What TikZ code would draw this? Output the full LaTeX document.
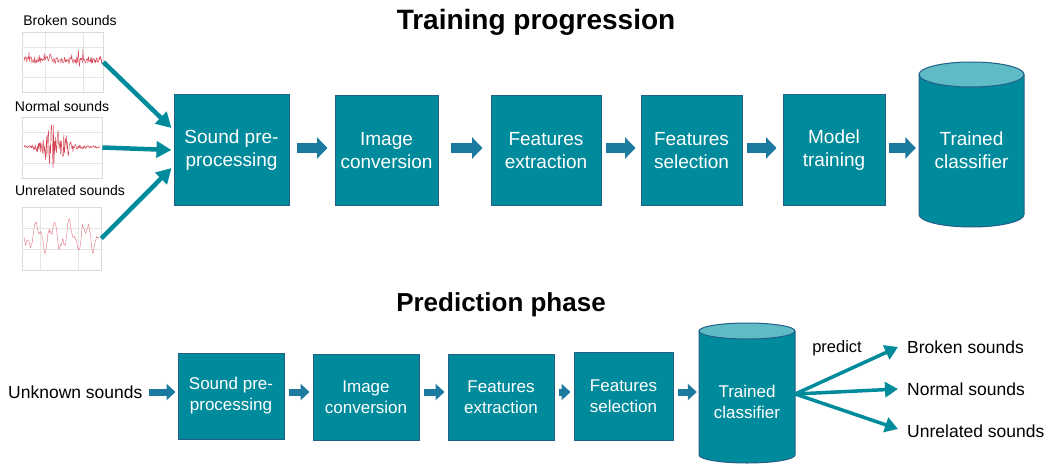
\documentclass[tikz,border=0pt]{standalone}
\usepackage{fontspec}
\setmainfont{Liberation Sans}
\usetikzlibrary{arrows.meta,calc}

\definecolor{boxteal}{RGB}{0,139,156}
\definecolor{boxedge}{RGB}{35,95,135}
\definecolor{topteal}{RGB}{95,188,198}
\definecolor{flowblue}{RGB}{28,122,160}
\definecolor{wave}{RGB}{215,70,85}
\definecolor{gridgray}{RGB}{218,218,218}

\tikzset{
  stage/.style={rectangle, fill=boxteal, draw=boxedge, line width=1pt,
    text=white, align=center, inner sep=0pt},
  stageT/.style={stage, font=\fontsize{19}{23}\selectfont},
  stageB/.style={stage, font=\fontsize{17}{21}\selectfont},
  drumlabel/.style={rectangle, inner sep=0pt, text=white, align=center},
  flowT/.style={line width=9.5pt, draw=flowblue, -{Triangle[length=10.5pt,width=21pt]}},
  flowB/.style={line width=7pt, draw=flowblue, -{Triangle[length=9pt,width=16pt]}},
  feed/.style={line width=4.5pt, draw=boxteal, -{Triangle[length=15pt,width=16pt]}},
  outcome/.style={line width=3.5pt, draw=boxteal, -{Triangle[length=13pt,width=15pt]}},
  graphframe/.style={rectangle, draw=gridgray, fill=white, line width=0.6pt, inner sep=0pt},
  gridline/.style={draw=gridgray!70, line width=0.4pt},
  sig/.style={draw=wave, line width=0.45pt, line join=round},
  title/.style={font=\fontsize{28}{32}\selectfont\bfseries},
  caption/.style={font=\fontsize{14}{16}\selectfont},
  plain/.style={font=\fontsize{17.5}{20}\selectfont, inner sep=0pt},
}

\begin{document}
\begin{tikzpicture}[x=1pt,y=1pt]
\useasboundingbox (0,0) rectangle (1051,-465);

% ---------------- Training progression ----------------
\node[title] (ttitle) at (536,-22) {Training progression};

% input recordings
\node[caption] (cap1) at (70,-20) {Broken sounds};
\node[caption] (cap2) at (62,-106) {Normal sounds};
\node[caption] (cap3) at (70,-190) {Unrelated sounds};

\node[graphframe, minimum width=81pt, minimum height=60pt] (g1) at (62.5,-62) {};
\node[graphframe, minimum width=80pt, minimum height=61pt] (g2) at (62,-147.5) {};
\node[graphframe, minimum width=79pt, minimum height=63pt] (g3) at (61.5,-238.5) {};

% light grid lines
\draw[gridline] (45,-32) -- (45,-92) (83,-32) -- (83,-92) (22,-47) -- (103,-47) (22,-77) -- (103,-77);
\draw[gridline] (22,-132) -- (102,-132) (22,-163) -- (102,-163);
\draw[gridline] (40,-207) -- (40,-270) (78,-207) -- (78,-270) (22,-228) -- (101,-228) (22,-249) -- (101,-249);

% waveforms
\pgfmathsetseed{7}
\draw[sig] plot[domain=24:102, samples=140] (\x, {-60 + 3.5*rand + (rnd>0.8)*9*rand});
\draw[sig] plot[domain=24:100, samples=150] (\x, {-147 + (1.5 + 22*exp(-((\x-55)/13)^2))*rand});
\draw[sig, draw=wave!70] plot[domain=24:99, samples=120]
  (\x, {-236 + 11*sin(22*\x) + 6*sin(53*\x+40) + 2.5*rand});

% pipeline stages
\node[stageT, minimum width=115pt, minimum height=111pt] (pre) at (231.5,-150) {Sound pre-\\processing};
\node[stageT, minimum width=103pt, minimum height=110pt] (img) at (386.5,-150.5) {Image\\conversion};
\node[stageT, minimum width=110pt, minimum height=110pt] (fex) at (546,-150.5) {Features\\extraction};
\node[stageT, minimum width=101pt, minimum height=110pt] (fsel) at (691.5,-150.5) {Features\\selection};
\node[stageT, minimum width=102pt, minimum height=111pt] (mtr) at (834,-150) {Model\\training};

% trained classifier drum
\fill[boxteal] (919,-74.5) -- (919,-214.5)
  arc[start angle=180, end angle=360, x radius=52.5pt, y radius=12.5pt]
  -- (1024,-74.5)
  arc[start angle=0, end angle=180, x radius=52.5pt, y radius=12.5pt] -- cycle;
\draw[boxedge, line width=1pt] (919,-74.5) -- (919,-214.5)
  arc[start angle=180, end angle=360, x radius=52.5pt, y radius=12.5pt]
  -- (1024,-74.5);
\filldraw[fill=topteal, draw=boxedge, line width=1pt] (971.5,-74.5)
  ellipse[x radius=52.5pt, y radius=12.5pt];
\node[drumlabel, font=\fontsize{19}{23}\selectfont, minimum width=105pt, minimum height=130pt]
  (clf) at (971.5,-150) {Trained\\classifier};

% connectors
\draw[feed] (g1.east) -- ($(pre.west)+(-2,22)$);
\draw[feed] (g2.east) -- ($(pre.west)+(-2,0)$);
\draw[feed] (g3.east) -- ($(pre.west)+(-2,-18)$);

\draw[flowT] ($(pre.east)+(7,2)$) -- ($(img.west)+(-7,2.5)$);
\draw[flowT] ($(img.east)+(12,2.5)$) -- ($(fex.west)+(-8,2.5)$);
\draw[flowT] ($(fex.east)+(4,2.5)$) -- ($(fsel.west)+(-5,2.5)$);
\draw[flowT] ($(fsel.east)+(4,2.5)$) -- ($(mtr.west)+(-6,2)$);
\draw[flowT] ($(mtr.east)+(3,2)$) -- ($(clf.west)+(-3,2)$);

% ---------------- Prediction phase ----------------
\node[title, font=\fontsize{26}{30}\selectfont\bfseries] (ptitle) at (501,-305) {Prediction phase};

\node[plain, anchor=west] (unk) at (8,-392) {Unknown sounds};

\node[stageB, minimum width=106pt, minimum height=86pt] (pre2) at (231,-396) {Sound pre-\\processing};
\node[stageB, minimum width=106pt, minimum height=86pt] (img2) at (366,-397) {Image\\conversion};
\node[stageB, minimum width=106pt, minimum height=86pt] (fex2) at (501,-397) {Features\\extraction};
\node[stageB, minimum width=99pt, minimum height=88pt] (fsel2) at (623.5,-396) {Features\\selection};

% classifier drum, prediction side
\fill[boxteal] (699,-331) -- (699,-455)
  arc[start angle=180, end angle=360, x radius=48pt, y radius=8pt]
  -- (795,-331)
  arc[start angle=0, end angle=180, x radius=48pt, y radius=8pt] -- cycle;
\draw[boxedge, line width=1pt] (699,-331) -- (699,-455)
  arc[start angle=180, end angle=360, x radius=48pt, y radius=8pt]
  -- (795,-331);
\filldraw[fill=topteal, draw=boxedge, line width=1pt] (747,-331)
  ellipse[x radius=48pt, y radius=8pt];
\node[drumlabel, font=\fontsize{17}{21}\selectfont, minimum width=96pt, minimum height=100pt]
  (clf2) at (747,-402) {Trained\\classifier};

\draw[flowB] ($(unk.east)+(6,0)$) -- ($(pre2.west)+(-2,4)$);
\draw[flowB] ($(pre2.east)+(4,4)$) -- ($(img2.west)+(-3,5)$);
\draw[flowB] ($(img2.east)+(4,5)$) -- ($(fex2.west)+(-3,5)$);
\draw[flowB] ($(fex2.east)+(4,5)$) -- ($(fsel2.west)+(-3,4)$);
\draw[flowB] ($(fsel2.east)+(4,4)$) -- ($(clf2.west)+(-2,10)$);

% predicted classes
\node[plain, anchor=west] (out1) at (907,-347) {Broken sounds};
\node[plain, anchor=west] (out2) at (907,-389) {Normal sounds};
\node[plain, anchor=west] (out3) at (907,-431) {Unrelated sounds};
\node[font=\fontsize{16.5}{18}\selectfont, inner sep=0pt] (pred) at (837,-348) {predict};

\coordinate (fork) at ($(clf2.east)+(0,8)$);
\draw[outcome] (fork) -- ($(out1.west)+(-9,0)$);
\draw[outcome] (fork) -- ($(out2.west)+(-9,0)$);
\draw[outcome] (fork) -- ($(out3.west)+(-9,2)$);
\end{tikzpicture}
\end{document}
